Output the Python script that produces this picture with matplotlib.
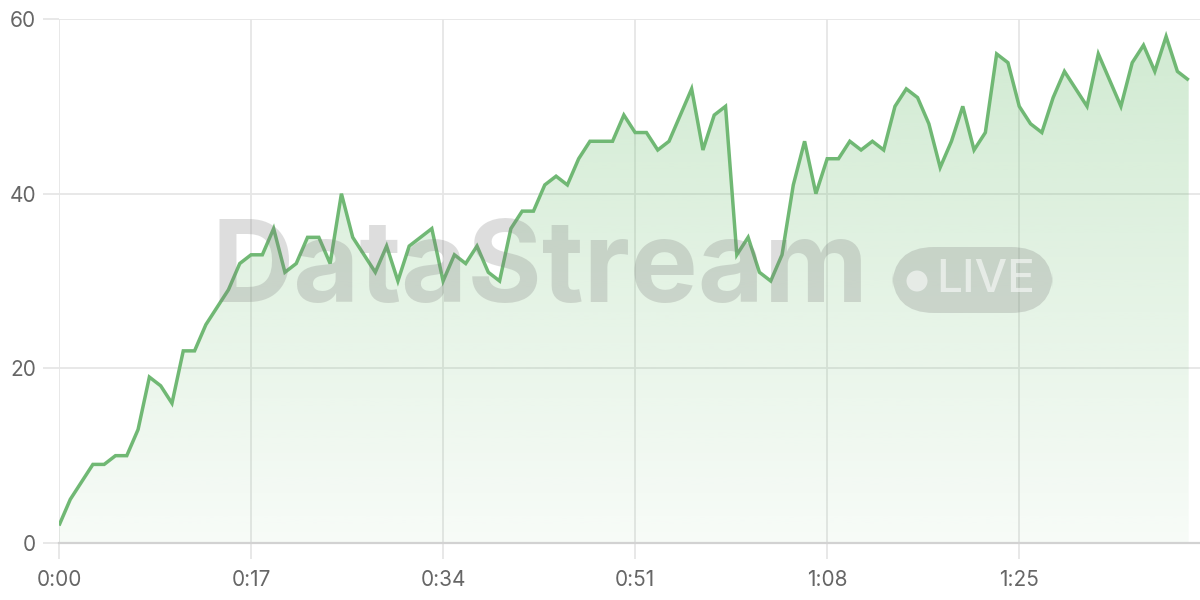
import numpy as np
import matplotlib
matplotlib.use("Agg")
import matplotlib.pyplot as plt
from matplotlib.patches import FancyBboxPatch, Ellipse
from matplotlib.colors import to_rgb

# ---- data ----
seconds = list(range(0, 101))
values = [2, 5, 7, 9, 9, 10, 10, 13, 19, 18,
          16, 22, 22, 25, 27, 29, 32, 33, 33, 36,
          31, 32, 35, 35, 32, 40, 35, 33, 31, 34,
          30, 34, 35, 36, 30, 33, 32, 34, 31, 30,
          36, 38, 38, 41, 42, 41, 44, 46, 46, 46,
          49, 47, 47, 45, 46, 49, 52, 45, 49, 50,
          33, 35, 31, 30, 33, 41, 46, 40, 44, 44,
          46, 45, 46, 45, 50, 52, 51, 48, 43, 46,
          50, 45, 47, 56, 55, 50, 48, 47, 51, 54,
          52, 50, 56, 53, 50, 55, 57, 54, 58, 54,
          53]
x_ticks = [0, 17, 34, 51, 68, 85]
x_tick_labels = ["0:00", "0:17", "0:34", "0:51", "1:08", "1:25"]
y_ticks = [0, 20, 40, 60]
y_tick_labels = ["0", "20", "40", "60"]
watermark = "DataStream"
badge_text = "LIVE"

# ---- style ----
line_color = "#70b874"
fill_color = "#66bb6a"
grid_color = "#e6e6e6"
axis_color = "#d2d2d2"
label_color = "#666666"
font = ["Inter", "DejaVu Sans"]

W, H, DPI = 1200, 600, 100
fig = plt.figure(figsize=(W / DPI, H / DPI), dpi=DPI)
fig.patch.set_facecolor("white")
ax = fig.add_axes([59 / W, (H - 543) / H, (W - 59) / W, (543 - 19) / H])
ax.set_xlim(0, 101)
ax.set_ylim(0, 60)

# gradient fill
poly = ax.fill_between(seconds, values, 0, color="none", lw=0)
rgb = to_rgb(fill_color)
n = 256
alphas = np.linspace(0.05, 0.31, n)[:, None]
img = np.zeros((n, 1, 4))
img[..., 0], img[..., 1], img[..., 2] = rgb
img[..., 3] = alphas
im = ax.imshow(img, extent=[0, 101, 0, 60], origin="lower", aspect="auto",
               interpolation="bilinear", zorder=1)
path = poly.get_paths()[0]
im.set_clip_path(path, transform=ax.transData)

ax.plot(seconds, values, color=line_color, lw=2.5, zorder=5,
        solid_joinstyle="miter", solid_capstyle="butt")

# grid / axes
ax.set_xticks(x_ticks)
ax.set_xticklabels(x_tick_labels)
ax.set_yticks(y_ticks)
ax.set_yticklabels(y_tick_labels)
ax.grid(True, color=grid_color, lw=1.3, zorder=0)
ax.set_axisbelow(True)
for s in ["top", "right", "left"]:
    ax.spines[s].set_visible(False)
ax.spines["bottom"].set_color(axis_color)
ax.spines["bottom"].set_linewidth(1.6)
ax.spines["bottom"].set_zorder(6)
ax.tick_params(axis="both", length=11.5, width=1.3, color=grid_color,
               labelcolor=label_color, labelsize=15)
ax.tick_params(axis="x", pad=8)
ax.tick_params(axis="y", pad=5)
for lab in ax.get_xticklabels() + ax.get_yticklabels():
    lab.set_family(font)

# watermark
wm_color = "#7a7a7a"
fig.text(540 / W, 1 - 272 / H, watermark, ha="center", va="center",
         fontsize=82, fontweight="bold", family=font, color=wm_color,
         alpha=0.25, zorder=3)
badge = FancyBboxPatch((892 / W, 1 - 313 / H), (1053 - 892) / W, (313 - 247) / H,
                       boxstyle="round,pad=0,rounding_size=0.035",
                       transform=fig.transFigure, facecolor=wm_color,
                       edgecolor="none", alpha=0.25, zorder=3,
                       mutation_aspect=2)
fig.patches.append(badge)
r = 10.5
fig.patches.append(Ellipse((917 / W, 1 - 281 / H), 2 * r / W, 2 * r / H,
                           transform=fig.transFigure, facecolor="white",
                           alpha=0.55, edgecolor="none", zorder=4))
fig.text(986 / W, 1 - 280 / H, badge_text, ha="center", va="center",
         fontsize=33, fontweight="medium", family=font, color="white",
         alpha=0.55, zorder=4)

fig.savefig("out.png", dpi=DPI)
